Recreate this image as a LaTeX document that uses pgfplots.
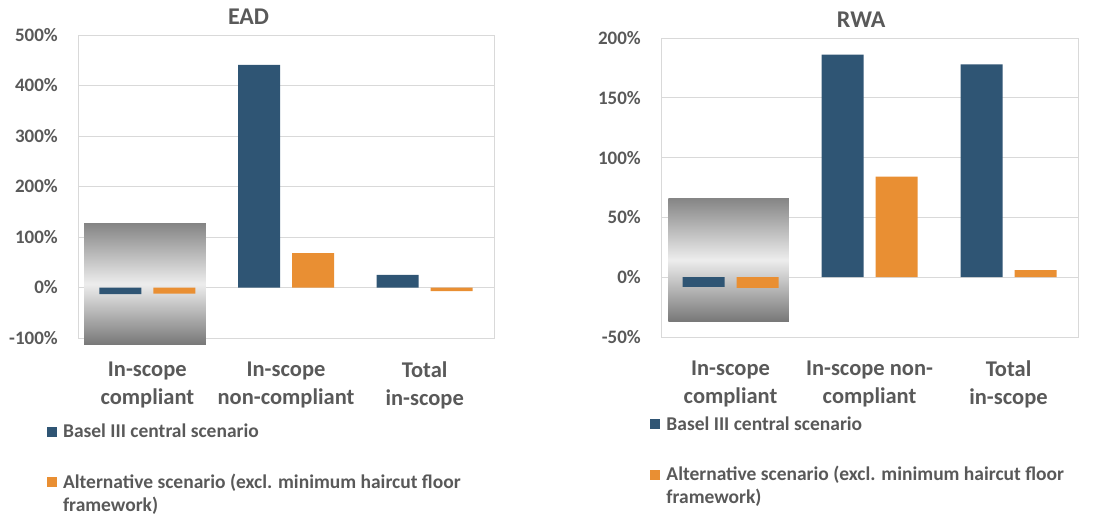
\documentclass[border=0pt]{standalone}
\usepackage{pgfplots}
\pgfplotsset{compat=1.18}
\usepackage{fontspec}
\setmainfont{Carlito}

\definecolor{baselblue}{HTML}{2F5574}
\definecolor{altorange}{HTML}{E98F33}
\definecolor{txtgray}{HTML}{595959}
\definecolor{gridgray}{HTML}{D9D9D9}
\definecolor{boxdark}{HTML}{858585}
\definecolor{boxlight}{HTML}{EDEDED}

\newcommand{\altentry}{\begin{tabular}[t]{@{}l@{}}Alternative scenario (excl. minimum haircut floor\\framework)\end{tabular}}

\pgfplotsset{
  panel/.style={
    scale only axis,
    anchor=south west,
    ybar=12pt, bar width=42pt,
    xmin=-0.5, xmax=2.5,
    xtick={0,1,2},
    axis line style={gridgray, line width=1pt},
    ymajorgrids, grid style={gridgray, line width=1pt},
    major tick length=0pt,
    clip=false,
    tick label style={font=\fontsize{19}{22}\selectfont\bfseries, text=txtgray,
      /pgf/number format/assume math mode=true},
    yticklabel={\pgfmathprintnumber[fixed,precision=0]{\tick}\%},
    yticklabel style={inner sep=0pt, xshift=-20pt},
    xticklabel style={font=\fontsize{22.5}{28}\selectfont\bfseries, align=center,
      inner sep=0pt, yshift=-24pt},
    title style={font=\fontsize{24}{28}\selectfont\bfseries, text=txtgray, anchor=base},
    legend cell align=left,
    legend style={draw=none, fill=none, anchor=north west,
      font=\fontsize{19.5}{23}\selectfont\bfseries, text=txtgray,
      cells={anchor=base west}, row sep=29pt,
      /tikz/every odd column/.append style={column sep=4pt}},
    legend image code/.code={\fill[#1,draw=none] (0pt,1pt) rectangle (10pt,11pt);},
  },
}

\begin{document}
\begin{tikzpicture}
\path[use as bounding box] (0,0) rectangle (1120pt,515pt);

% EAD
\begin{axis}[panel,
    at={(78pt,177pt)}, width=416pt, height=303pt,
    ymin=-100, ymax=500, ytick={-100,0,...,500},
    xticklabels={{In-scope\\compliant},{In-scope\\non-compliant},{Total\\in-scope}},
    title={EAD}, title style={at={(0.41,1.015)}},
    legend style={at={(-0.082,-0.27)}},
  ]
  \shade[top color=boxdark, bottom color=boxdark!90!black, middle color=boxlight]
    (axis cs:-0.456,127) rectangle (axis cs:0.423,-113);
  \addplot[fill=baselblue, draw=none] coordinates {(0,-13) (1,441) (2,25)};
  \addplot[fill=altorange, draw=none] coordinates {(0,-12) (1,68) (2,-7)};
  \legend{Basel III central scenario, \altentry}
\end{axis}

% RWA
\begin{axis}[panel,
    at={(661pt,178pt)}, width=417pt, height=299pt,
    ymin=-50, ymax=200, ytick={-50,0,...,200},
    xticklabels={{In-scope\\compliant},{In-scope non-\\compliant},{Total\\in-scope}},
    title={RWA}, title style={at={(0.48,1.015)}},
    legend style={at={(-0.033,-0.252)}},
  ]
  \shade[top color=boxdark, bottom color=boxdark!90!black, middle color=boxlight]
    (axis cs:-0.447,66) rectangle (axis cs:0.42,-37);
  \addplot[fill=baselblue, draw=none] coordinates {(0,-8) (1,186) (2,178)};
  \addplot[fill=altorange, draw=none] coordinates {(0,-9) (1,84) (2,6)};
  \legend{Basel III central scenario, \altentry}
\end{axis}
\end{tikzpicture}
\end{document}
